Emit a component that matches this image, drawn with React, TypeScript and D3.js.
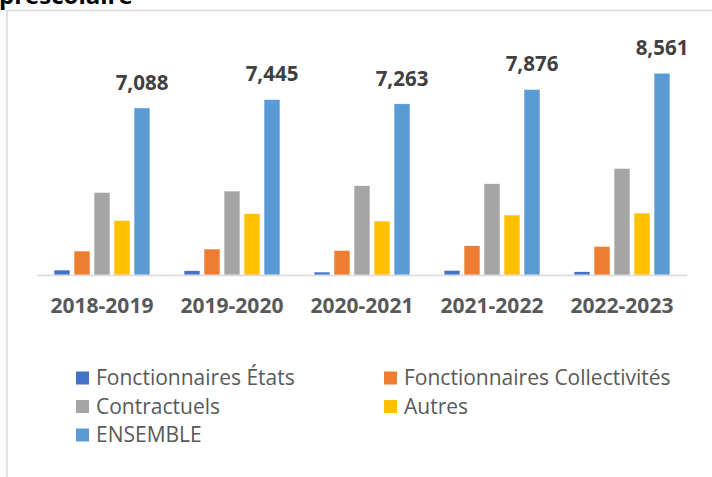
import React from "react";
import * as d3 from "d3";

const categories = ["2018-2019", "2019-2020", "2020-2021", "2021-2022", "2022-2023"];
const seriesNames = ["Fonctionnaires États", "Fonctionnaires Collectivités", "Contractuels", "Autres", "ENSEMBLE"];
const fonctionnairesEtats = [212, 182, 127, 200, 140];
const fonctionnairesCollectivites = [1018, 1103, 1047, 1243, 1217];
const contractuels = [3507, 3562, 3787, 3872, 4525];
const autres = [2320, 2600, 2290, 2545, 2629];
const ensemble = [7088, 7445, 7263, 7876, 8561];
const colors = ["#4472C4", "#ED7D31", "#A5A5A5", "#FFC000", "#5B9BD5"];

const seriesValues = [fonctionnairesEtats, fonctionnairesCollectivites, contractuels, autres, ensemble];

export default function App() {
  const W = 712, H = 477;
  const x = d3.scaleBand<string>().domain(categories).range([37, 687]);
  const xi = d3.scaleBand<string>().domain(seriesNames).range([15, 115]).paddingInner(0.2).paddingOuter(0.1);
  const y = d3.scaleLinear().domain([0, 9000]).range([275, 62.8]);
  const fmt = d3.format(",");
  const font = "'Open Sans', sans-serif";

  const legendPos = [
    { x: 76, y: 378 },
    { x: 384, y: 378 },
    { x: 76, y: 406.5 },
    { x: 384, y: 406.5 },
    { x: 76, y: 435 },
  ];

  return (
    <svg width={W} height={H} style={{ position: "absolute", left: 0, top: 0, background: "#fff" }}>
      <rect x={0} y={0} width={W} height={H} fill="#fff" />
      <text x={-1} y={4} fontFamily={font} fontWeight={700} fontSize={24} fill="#000">préscolaire</text>
      <line x1={7} x2={W} y1={10.5} y2={10.5} stroke="#D9D9D9" strokeWidth={1.5} />
      <line x1={7} x2={7} y1={10} y2={H} stroke="#D9D9D9" strokeWidth={1.5} />
      {categories.map((c, ci) => (
        <g key={c} transform={`translate(${x(c)},0)`}>
          {seriesNames.map((s, si) => {
            const v = seriesValues[si][ci];
            return (
              <rect key={s} x={xi(s)} width={xi.bandwidth()} y={y(v)} height={y(0) - y(v)} fill={colors[si]} stroke="#fff" strokeWidth={0.6} />
            );
          })}
          <text
            x={(xi("ENSEMBLE") as number) + xi.bandwidth() / 2}
            y={y(ensemble[ci]) - 18}
            textAnchor="middle"
            fontFamily={font}
            fontWeight={700}
            fontSize={20.5}
            fill="#404040"
          >
            {fmt(ensemble[ci])}
          </text>
          <text x={x.bandwidth() / 2} y={313} textAnchor="middle" fontFamily={font} fontWeight={700} fontSize={21} fill="#595959">
            {c}
          </text>
        </g>
      ))}
      <line x1={37} x2={687} y1={275.5} y2={275.5} stroke="#D9D9D9" strokeWidth={1.5} />
      {seriesNames.map((s, si) => (
        <g key={s}>
          <rect x={legendPos[si].x} y={legendPos[si].y - 6.5} width={13} height={13} fill={colors[si]} />
          <text x={legendPos[si].x + 20} y={legendPos[si].y + 7} fontFamily={font} fontSize={21} fill="#595959">
            {s}
          </text>
        </g>
      ))}
    </svg>
  );
}
